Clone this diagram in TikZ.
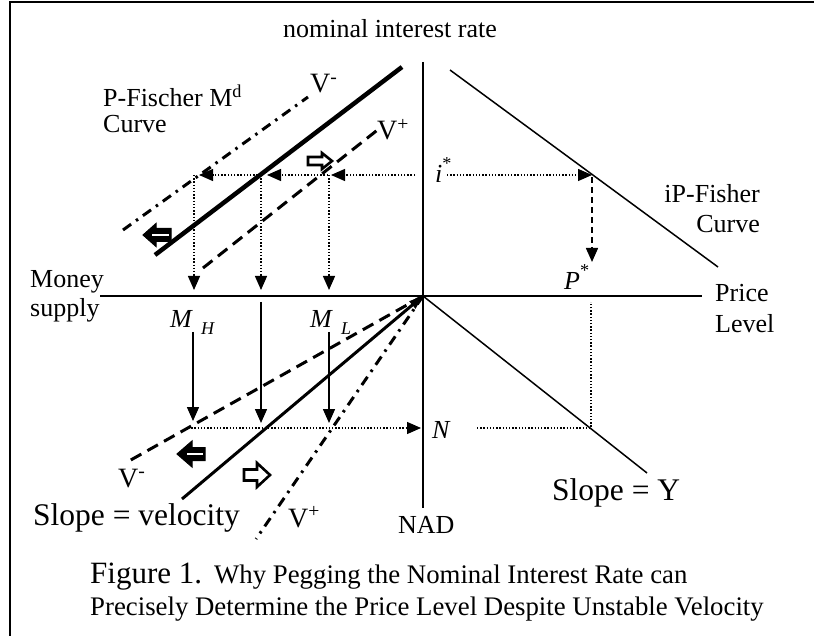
\documentclass[tikz,border=0pt]{standalone}
\usepackage{fontspec}
\setmainfont{Liberation Serif}
\usetikzlibrary{arrows.meta}
\begin{document}
\begin{tikzpicture}[x=1pt,y=-1pt,
  lbl/.style={font=\fontsize{26}{30}\selectfont, inner sep=0pt},
  vlbl/.style={font=\fontsize{28}{30}\selectfont, inner sep=0pt},
  big/.style={font=\fontsize{31.5}{36}\selectfont, inner sep=0pt},
  captxt/.style={font=\fontsize{26.8}{30}\selectfont, inner sep=0pt},
  ax/.style={line width=2pt},
  thin/.style={line width=1.5pt},
  dots/.style={line width=1.4pt, dash pattern=on 1.4pt off 1.8pt},
  dashln/.style={line width=3pt, dash pattern=on 12pt off 7pt},
  dashdot/.style={line width=3pt, dash pattern=on 10pt off 6pt on 2.5pt off 6pt},
  tip/.style={-{Triangle[length=14pt,width=12pt]}},
  hollow/.style={draw=black, fill=white, line width=2.6pt, line join=miter},
  solidblk/.style={draw=black, fill=black, line width=1pt, line join=miter},
  stripe/.style={white, line width=2.6pt},
]
\useasboundingbox (0,0) rectangle (814,636);
% frame
\coordinate (fBL) at (10,636); \coordinate (fTL) at (10,2); \coordinate (fTR) at (814,2);
\draw[ax] (fBL) -- (fTL) -- (fTR);
% axes
\coordinate (O) at (423,296);
\coordinate (yT) at (423,62); \coordinate (yB) at (423,508);
\coordinate (xL) at (100,296); \coordinate (xR) at (702,296);
\draw[ax] (yT) -- (yB);
\draw[ax] (xL) -- (xR);
% upper-left curves
\coordinate (md1) at (155,255); \coordinate (md2) at (402,67);
\draw[line width=4.5pt] (md1) -- (md2);
\coordinate (vm1) at (123,230); \coordinate (vm2) at (308,97);
\draw[dashdot] (vm1) -- (vm2);
\coordinate (vp1) at (203,268); \coordinate (vp2) at (380,128);
\draw[dashln] (vp1) -- (vp2);
% upper-right curve
\coordinate (fi1) at (450,70); \coordinate (fi2) at (718,267);
\draw[thin] (fi1) -- (fi2);
% lower-right
\coordinate (sy) at (647,473);
\draw[thin] (O) -- (sy);
% lower-left
\coordinate (vel) at (182,499);
\draw[line width=3pt,-{Triangle[length=14pt,width=9pt]}] (vel) -- (O);
\coordinate (lvm) at (129,461);
\draw[dashln] (O) -- (lvm);
\coordinate (lvp) at (256,539);
\draw[dashdot] (O) -- (lvp);

% labels
\node[lbl,anchor=base] (title) at (390,38) {nominal interest rate};
\node[lbl,anchor=base west] (pf1) at (103,107) {P-Fischer M\textsuperscript{d}};
\node[lbl,anchor=base west] (pf2) at (103,133) {Curve};
\node[vlbl,anchor=base west] (vmt) at (310,93) {V\textsuperscript{-}};
\node[vlbl,anchor=base west] (vpt) at (377,140) {V\textsuperscript{+}};
\node[lbl,anchor=base west] (istar) at (435,183) {\textit{i}\raisebox{4pt}{\textsuperscript{*}}};
\node[lbl,anchor=base east] (fis1) at (760,203) {iP-Fisher};
\node[lbl,anchor=base east] (fis2) at (760,233) {Curve};
\node[lbl,anchor=base west] (pstar) at (564,290) {\textit{P}\raisebox{4pt}{\textsuperscript{*}}};
\node[lbl,anchor=base west] (pr1) at (715,302) {Price};
\node[lbl,anchor=base west] (pr2) at (715,333) {Level};
\node[lbl,anchor=base west] (ms1) at (30,288) {Money};
\node[lbl,anchor=base west] (ms2) at (30,317) {supply};
\node[lbl,anchor=base west] (mh) at (170,327) {\textit{M}\hspace{8pt}\raisebox{-7pt}{\fontsize{18}{18}\selectfont\textit{H}}};
\node[lbl,anchor=base west] (ml) at (310,327) {\textit{M}\hspace{8pt}\raisebox{-7pt}{\fontsize{18}{18}\selectfont\textit{L}}};
\node[lbl,anchor=base west] (nn) at (432,438) {\textit{N}};
\node[big,anchor=base west] (slY) at (552,500) {Slope = Y};
\node[vlbl,anchor=base west] (vmb) at (118,487) {V\textsuperscript{-}};
\node[vlbl,anchor=base west] (vpb) at (288,527) {V\textsuperscript{+}};
\node[big,anchor=base west] (slV) at (33,525) {Slope = velocity};
\node[lbl,anchor=base west] (nad) at (398,533) {NAD};
\node[inner sep=0pt,anchor=base west] (cap1) at (90,583) {{\fontsize{31}{34}\selectfont Figure 1.}\hspace{12pt}{\fontsize{26.8}{30}\selectfont Why Pegging the Nominal Interest Rate can}};
\node[captxt,anchor=base west] (cap2) at (90,615) {Precisely Determine the Price Level Despite Unstable Velocity};

% upper dotted arrows
\coordinate (h0) at (415,175); \coordinate (h1) at (331,175);
\coordinate (h1s) at (328,175); \coordinate (h2) at (267,175);
\coordinate (h2s) at (261,175); \coordinate (h3) at (199,175);
\draw[dots,tip] (h0) -- (h1);
\draw[dots,tip] (h1s) -- (h2);
\draw[dots,tip] (h2s) -- (h3);
\coordinate (d1a) at (194,175); \coordinate (d1b) at (194,290);
\coordinate (d2a) at (261,175); \coordinate (d2b) at (261,290);
\coordinate (d3a) at (329,175); \coordinate (d3b) at (329,290);
\draw[dots,tip] (d1a) -- (d1b);
\draw[dots,tip] (d2a) -- (d2b);
\draw[dots,tip] (d3a) -- (d3b);
% i* to Fisher, then down to P*
\coordinate (ir1) at (447,175); \coordinate (ir2) at (592,175);
\draw[dots,tip] (ir1) -- (ir2);
\coordinate (pd1) at (592,177); \coordinate (pd2) at (592,262);
\draw[line width=1.5pt,dash pattern=on 6pt off 4pt,tip] (pd1) -- (pd2);
% lower solid arrows
\coordinate (s1a) at (193,332); \coordinate (s1b) at (193,421);
\coordinate (s2a) at (261,302); \coordinate (s2b) at (261,423);
\coordinate (s3a) at (329,332); \coordinate (s3b) at (329,423);
\draw[thin,tip] (s1a) -- (s1b);
\draw[thin,tip] (s2a) -- (s2b);
\draw[thin,tip] (s3a) -- (s3b);
% lower dotted
\coordinate (n1) at (188,428); \coordinate (n2) at (421,428);
\draw[dots,tip] (n1) -- (n2);
\coordinate (n3) at (477,428); \coordinate (n4) at (591,428); \coordinate (n5) at (591,302);
\draw[dots] (n3) -- (n4) -- (n5);

% hollow right-pointing arrows
\coordinate (ha1) at (320,161);
\draw[hollow,shift={(ha1)}] (-12,-4) -- (2,-4) -- (2,-8) -- (12,0) -- (2,8) -- (2,4) -- (-12,4) -- cycle;
\coordinate (ha2) at (257,475);
\draw[hollow,shift={(ha2)}] (-13,-5.5) -- (0,-5.5) -- (0,-12) -- (13,0) -- (0,12) -- (0,5.5) -- (-13,5.5) -- cycle;
% double-lined left-pointing arrows
\coordinate (da1) at (157,235);
\filldraw[solidblk,shift={(da1)}] (14,-6.5) -- (-1,-6.5) -- (-1,-11.5) -- (-14,0) -- (-1,11.5) -- (-1,6.5) -- (14,6.5) -- cycle;
\draw[stripe,shift={(da1)}] (-5,0) -- (12,0);
\coordinate (da2) at (191,454);
\filldraw[solidblk,shift={(da2)}] (14,-6.5) -- (1,-6.5) -- (1,-13) -- (-14,0) -- (1,13) -- (1,6.5) -- (14,6.5) -- cycle;
\draw[stripe,shift={(da2)}] (-4,0) -- (12,0);
\end{tikzpicture}
\end{document}
